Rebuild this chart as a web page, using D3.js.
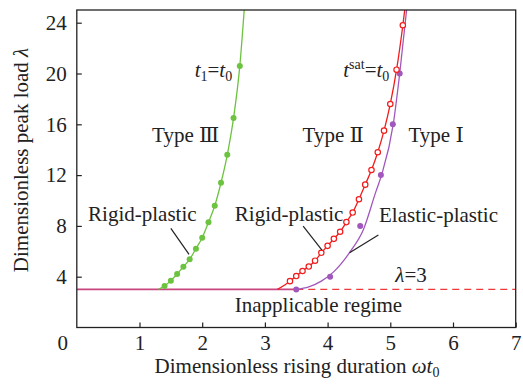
<!DOCTYPE html>
<html>
<head>
<meta charset="utf-8">
<script src="https://cdn.jsdelivr.net/npm/d3@7"></script>
<style>
  body { margin: 0; background: #fff; }
  text { font-family: "Liberation Serif", "DejaVu Serif", serif; fill: #222; }
</style>
</head>
<body>
<div id="chart"></div>
<script>
// green: t1 = t0 (rigid-plastic, type III boundary)
var greenDots = [[1.4,3.27],[1.5,3.69],[1.6,4.21],[1.7,4.79],[1.8,5.37],[1.9,6.21],[2.0,7.07],
  [2.1,8.28],[2.2,9.59],[2.3,11.4],[2.4,13.6],[2.5,16.5],[2.6,20.6]];
var greenLine = [[1.3,3]].concat(greenDots, [[2.67,25]]);

// red: tsat = t0 (rigid-plastic)
var redDots = [[3.4,3.65],[3.5,4.05],[3.6,4.45],[3.7,4.8],[3.8,5.26],[3.9,5.88],[4.0,6.43],[4.1,6.98],
  [4.2,7.54],[4.3,8.3],[4.4,9.05],[4.5,10.1],[4.6,11.25],[4.7,12.4],[4.8,13.8],[4.9,15.5],
  [5.0,17.6],[5.1,20.3],[5.2,23.8]];
var redLine = [[3.2,3]].concat(redDots, [[5.23,25]]);

// purple: elastic-plastic
var purpleDots = [[3.5,3],[4.04,4],[4.52,8],[4.85,12],[5.04,16],[5.15,20]];
var purpleLine = [[3.5,3],[3.7,3.2],[3.9,3.65],[4.1,4.4],[4.36,5.97],[4.57,7.7],[4.77,10.7],
  [4.86,12],[5.05,16.1],[5.15,20],[5.26,25]];

var xTicks = [1,2,3,4,5,6,7];
var yTicks = [4,8,12,16,20,24];
var lambdaMin = 3;

var width = 523, height = 388,
    margin = {top:10, right:7.3, bottom:60.5, left:76.8};

var svg = d3.select("#chart").append("svg")
  .attr("width", width)
  .attr("height", height);

var x = d3.scaleLinear().domain([0,7]).range([margin.left, width - margin.right]);
var y = d3.scaleLinear().domain([0,25]).range([height - margin.bottom, margin.top]);

svg.append("clipPath").attr("id","clip")
  .append("rect")
  .attr("x", margin.left).attr("y", margin.top)
  .attr("width", x(7) - x(0)).attr("height", y(0) - y(25));

var plot = svg.append("g").attr("clip-path","url(#clip)");

var line = d3.line()
  .x(function(d){ return x(d[0]); })
  .y(function(d){ return y(d[1]); })
  .curve(d3.curveMonotoneX);

// lambda = 3 line
plot.append("line")
  .attr("x1", x(3.5)).attr("x2", x(7))
  .attr("y1", y(lambdaMin)).attr("y2", y(lambdaMin))
  .style("stroke","#f03a3a").style("stroke-width",1.3)
  .style("stroke-dasharray","7,5");
plot.append("line")
  .attr("x1", x(0)).attr("x2", x(3.5))
  .attr("y1", y(lambdaMin)).attr("y2", y(lambdaMin))
  .style("stroke","#c8457f").style("stroke-width",1.6);

plot.append("path").datum(greenLine).attr("d", line)
  .style("fill","none").style("stroke","#6cc33f").style("stroke-width",1.3);
plot.append("path").datum(purpleLine).attr("d", line)
  .style("fill","none").style("stroke","#a257bd").style("stroke-width",1.3);
plot.append("path").datum(redLine).attr("d", line)
  .style("fill","none").style("stroke","#f21c1c").style("stroke-width",1.3);

plot.selectAll(".gdot").data(greenDots).enter().append("circle")
  .attr("cx", function(d){ return x(d[0]); })
  .attr("cy", function(d){ return y(d[1]); })
  .attr("r", 3).style("fill","#6cc33f");

plot.selectAll(".pdot").data(purpleDots).enter().append("circle")
  .attr("cx", function(d){ return x(d[0]); })
  .attr("cy", function(d){ return y(d[1]); })
  .attr("r", 3).style("fill","#a257bd");

plot.selectAll(".rdot").data(redDots).enter().append("circle")
  .attr("cx", function(d){ return x(d[0]); })
  .attr("cy", function(d){ return y(d[1]); })
  .attr("r", 2.7).style("fill","#fff").style("stroke","#f21c1c").style("stroke-width",1.2);

// axes
var xAxis = svg.append("g")
  .attr("transform","translate(0," + y(0) + ")")
  .call(d3.axisBottom(x).tickValues(xTicks).tickFormat(d3.format("d"))
    .tickSizeInner(-5).tickSizeOuter(0).tickPadding(8));
var yAxis = svg.append("g")
  .attr("transform","translate(" + x(0) + ",0)")
  .call(d3.axisLeft(y).tickValues(yTicks).tickFormat(d3.format("d"))
    .tickSizeInner(-5).tickSizeOuter(0).tickPadding(10));
[xAxis, yAxis].forEach(function(a){
  a.select(".domain").remove();
  a.selectAll("line").style("stroke","#222").style("stroke-width",1.2);
  a.selectAll("text").style("font-size","21px").style("fill","#222")
    .style("font-family","Liberation Serif, serif");
});

// corner zero
svg.append("text").attr("x", x(0) - 14).attr("y", y(0) + 22)
  .attr("text-anchor","middle").style("font-size","21px").text("0");

// frame
svg.append("rect")
  .attr("x", x(0)).attr("y", y(25))
  .attr("width", x(7) - x(0)).attr("height", y(0) - y(25))
  .style("fill","none").style("stroke","#222").style("stroke-width",1.3);

// axis titles
var xt = svg.append("text")
  .attr("x", 297).attr("y", 373)
  .attr("text-anchor","middle").style("font-size","21px");
xt.append("tspan").text("Dimensionless rising duration ");
xt.append("tspan").style("font-style","italic").text("ωt");
xt.append("tspan").attr("dy", 4).style("font-size","14px").text("0");

var yt = svg.append("text")
  .attr("transform","translate(28,160) rotate(-90)")
  .attr("text-anchor","middle").style("font-size","21px");
yt.append("tspan").text("Dimensionless peak load ");
yt.append("tspan").style("font-style","italic").text("λ");

// annotations (data coordinates)
function label(px, py, anchor) {
  return svg.append("text").attr("x", x(px)).attr("y", y(py))
    .attr("text-anchor", anchor || "start").style("font-size","21px");
}

var t1 = label(1.88, 19.7);
t1.append("tspan").style("font-style","italic").text("t");
t1.append("tspan").attr("dy",4).style("font-size","14px").text("1");
t1.append("tspan").attr("dy",-4).text("=");
t1.append("tspan").style("font-style","italic").text("t");
t1.append("tspan").attr("dy",4).style("font-size","14px").text("0");

var ts = label(4.25, 19.7);
ts.append("tspan").style("font-style","italic").text("t");
ts.append("tspan").attr("dy",-8).style("font-size","14px").text("sat");
ts.append("tspan").attr("dy",8).text("=");
ts.append("tspan").style("font-style","italic").text("t");
ts.append("tspan").attr("dy",4).style("font-size","14px").text("0");

label(1.2, 14.6).text("Type Ⅲ");
label(3.6, 14.6).text("Type Ⅱ");
label(5.29, 14.6).text("Type Ⅰ");
label(0.18, 8.4).text("Rigid-plastic");
label(2.52, 8.4).text("Rigid-plastic");
label(4.82, 8.3).text("Elastic-plastic");

var lam = label(5.08, 3.55);
lam.append("tspan").style("font-style","italic").text("λ");
lam.append("tspan").text("=3");

label(2.52, 1.24).text("Inapplicable regime");

var leaders = [
  [[1.50,7.81],[1.79,5.76]],
  [[3.61,7.99],[3.91,6.10]],
  [[4.81,7.28],[4.35,5.89]]
];
svg.selectAll(".leader").data(leaders).enter().append("line")
  .attr("x1", function(d){ return x(d[0][0]); })
  .attr("y1", function(d){ return y(d[0][1]); })
  .attr("x2", function(d){ return x(d[1][0]); })
  .attr("y2", function(d){ return y(d[1][1]); })
  .style("stroke","#222").style("stroke-width",1.2);
</script>
</body>
</html>
